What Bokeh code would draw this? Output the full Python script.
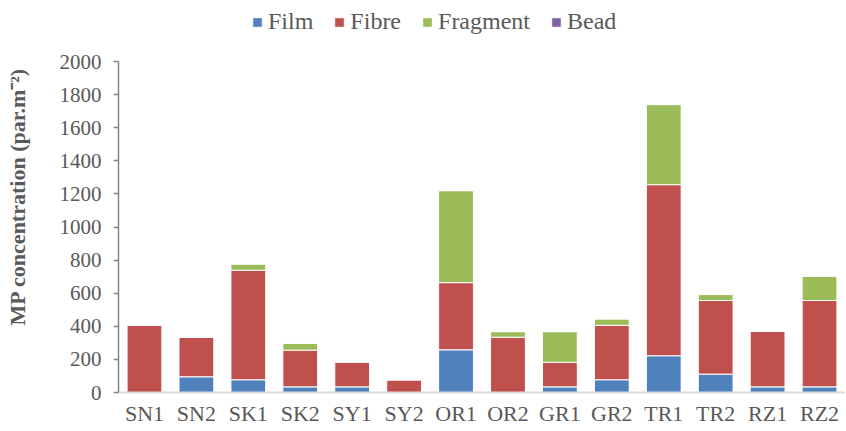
from bokeh.plotting import figure
from bokeh.models import ColumnDataSource, Legend, LegendItem, Range1d, FixedTicker
from bokeh.embed import file_html
from bokeh.resources import INLINE

sites = ["SN1", "SN2", "SK1", "SK2", "SY1", "SY2", "OR1", "OR2", "GR1", "GR2", "TR1", "TR2", "RZ1", "RZ2"]
film = [0, 95, 77, 34, 34, 0, 258, 0, 34, 77, 222, 111, 34, 34]
fibre = [406, 239, 662, 222, 151, 77, 406, 334, 149, 329, 1034, 445, 336, 522]
fragment = [0, 0, 38, 42, 0, 0, 556, 34, 185, 39, 484, 36, 0, 147]
bead = [0, 0, 0, 0, 0, 0, 0, 0, 0, 0, 0, 0, 0, 0]
y_ticks = [0, 200, 400, 600, 800, 1000, 1200, 1400, 1600, 1800, 2000]

series = ["Film", "Fibre", "Fragment", "Bead"]
colors = ["#4F81BD", "#C0504D", "#9BBB59", "#8064A2"]

src = ColumnDataSource(dict(site=sites, Film=film, Fibre=fibre, Fragment=fragment, Bead=bead))

FONT = "Liberation Serif"
GREY = "#595959"

# frame reaches the top edge so the legend can sit inside it; the axis line stops at 2000
p = figure(width=845, height=428, output_backend="svg", toolbar_location=None,
           x_range=sites, y_range=Range1d(0, 2369),
           min_border_left=118, min_border_right=0, min_border_top=0, min_border_bottom=10)
p.x_range.range_padding = 0

rs = p.vbar_stack(series, x="site", width=0.67, source=src, color=colors,
                  line_color="white", line_width=1)

p.xgrid.visible = False
p.ygrid.visible = False
p.outline_line_color = None

p.xaxis.major_tick_line_color = None
p.xaxis.major_tick_in = 0
p.xaxis.major_tick_out = 0
p.xaxis.minor_tick_line_color = None
p.xaxis.axis_line_color = "#D9D9D9"
p.xaxis.axis_line_width = 2
p.xaxis.major_label_text_font = FONT
p.xaxis.major_label_text_font_size = "22px"
p.xaxis.major_label_text_color = GREY
p.xaxis.major_label_standoff = 8

p.yaxis.ticker = FixedTicker(ticks=y_ticks)
p.yaxis.bounds = (0, 2000)
p.yaxis.minor_tick_line_color = None
p.yaxis.axis_line_color = "#868686"
p.yaxis.axis_line_width = 1.5
p.yaxis.major_tick_line_color = "#868686"
p.yaxis.major_tick_line_width = 1.5
p.yaxis.major_tick_in = 0
p.yaxis.major_tick_out = 5
p.yaxis.major_label_text_font = FONT
p.yaxis.major_label_text_font_size = "21px"
p.yaxis.major_label_text_color = GREY
p.yaxis.major_label_standoff = 12
p.yaxis.axis_label = "MP concentration (par.m\u207b\u00b2)"
p.yaxis.axis_label_text_font = FONT
p.yaxis.axis_label_text_font_size = "22px"
p.yaxis.axis_label_text_font_style = "bold"
p.yaxis.axis_label_text_color = GREY
p.yaxis.axis_label_standoff = 27

legend = Legend(items=[LegendItem(label=s, renderers=[r]) for s, r in zip(series, rs)],
                orientation="horizontal", location=(133, 357),
                label_text_font=FONT, label_text_font_size="24px", label_text_color=GREY,
                glyph_width=12, glyph_height=12, spacing=20, label_standoff=5,
                border_line_color=None, background_fill_alpha=0, padding=0, margin=0)
p.add_layout(legend, "center")

open("out.html", "w").write(file_html(p, INLINE))
